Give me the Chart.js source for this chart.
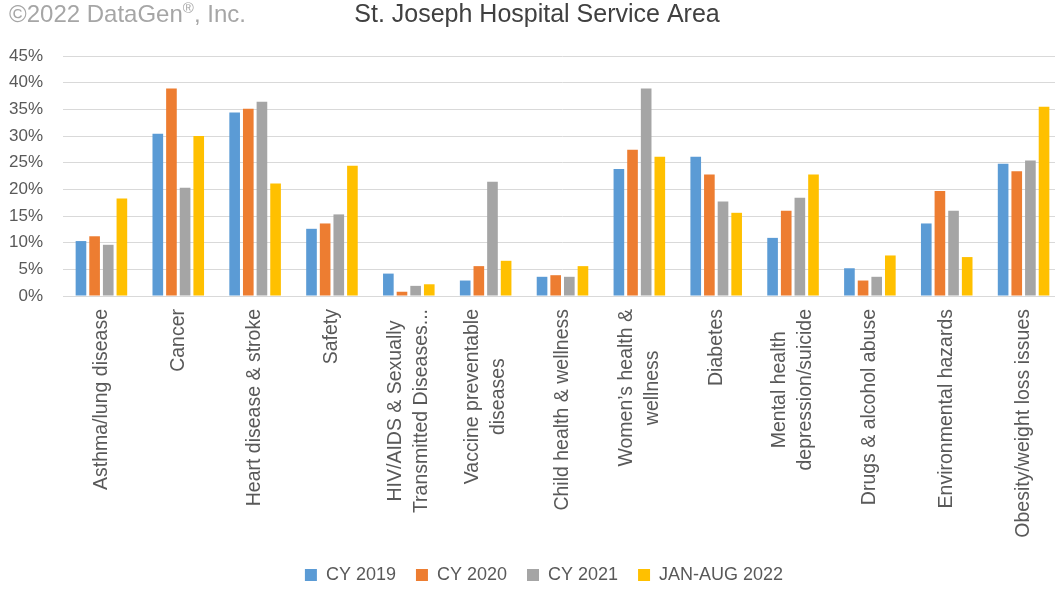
<!DOCTYPE html>
<html>
<head>
<meta charset="utf-8">
<script src="https://cdn.jsdelivr.net/npm/chart.js"></script>
<style>
  body { margin: 0; background: #fff; overflow: hidden; }
  #wrap { position: relative; width: 1062px; height: 590px; }
  #copy {
    position: absolute; left: 9px; top: -1px;
    font: 24px "Liberation Sans", Arial, sans-serif; color: #a6a6a6;
    white-space: nowrap;
  }
  #copy sup { font-size: 15px; }
</style>
</head>
<body>
<div id="wrap">
  <canvas id="myChart"></canvas>
  <div id="copy">©2022 DataGen<sup>®</sup>, Inc.</div>
</div>
<script>
const ctx = document.getElementById("myChart");

const categories = [
  "Asthma/lung disease",
  "Cancer",
  "Heart disease & stroke",
  "Safety",
  ["HIV/AIDS & Sexually", "Transmitted Diseases..."],
  ["Vaccine preventable", "diseases"],
  "Child health & wellness",
  ["Women’s health &", "wellness"],
  "Diabetes",
  ["Mental health", "depression/suicide"],
  "Drugs & alcohol abuse",
  "Environmental hazards",
  "Obesity/weight loss issues",
];

const seriesNames = ["CY 2019", "CY 2020", "CY 2021", "JAN-AUG 2022"];
const cy2019 = [10.3, 30.4, 34.4, 12.6, 4.2, 2.9, 3.6, 23.8, 26.1, 10.9, 5.2, 13.6, 24.8];
const cy2020 = [11.2, 38.9, 35.1, 13.6, 0.8, 5.6, 3.9, 27.4, 22.8, 16.0, 2.9, 19.7, 23.4];
const cy2021 = [9.6, 20.3, 36.4, 15.3, 1.9, 21.4, 3.6, 38.9, 17.7, 18.4, 3.6, 16.0, 25.4];
const janAug2022 = [18.3, 30.0, 21.1, 24.4, 2.2, 6.6, 5.6, 26.1, 15.6, 22.8, 7.6, 7.3, 35.5];
const colors = ["#5B9BD5", "#ED7D31", "#A5A5A5", "#FFC000"];

const FONT = '"Liberation Sans", Arial, sans-serif';

// rotated category labels, lines centred like Excel does
const xLabels = {
  id: "xLabels",
  afterDraw(chart) {
    const scale = chart.scales.x;
    const c = chart.ctx;
    c.save();
    c.font = "19.5px " + FONT;
    c.fillStyle = "#595959";
    c.textAlign = "center";
    c.textBaseline = "middle";
    categories.forEach((lab, i) => {
      const lines = Array.isArray(lab) ? lab : [lab];
      const w = Math.max(...lines.map((l) => c.measureText(l).width));
      c.save();
      c.translate(scale.getPixelForTick(i), scale.top + 13 + w / 2);
      c.rotate(-Math.PI / 2);
      lines.forEach((l, j) => c.fillText(l, 0, (j - (lines.length - 1) / 2) * 26));
      c.restore();
    });
    c.restore();
  },
};

// excel centres title/legend a bit right of ours
const nudge = {
  id: "nudge",
  afterLayout(chart) {
    chart.legend.left += 13;
    chart.legend.right += 13;
    chart.titleBlock.left += 6;
    chart.titleBlock.right += 6;
  },
};

new Chart(ctx, {
  type: "bar",
  data: {
    labels: categories,
    datasets: [cy2019, cy2020, cy2021, janAug2022].map((d, i) => ({
      label: seriesNames[i],
      data: d,
      backgroundColor: colors[i],
      categoryPercentage: 0.71,
      barPercentage: 0.78,
    })),
  },
  options: {
    responsive: true,
    maintainAspectRatio: false,
    animation: false,
    layout: { padding: { left: 0, right: 0, top: 0, bottom: -4 } },
    plugins: {
      title: {
        display: true,
        text: "St. Joseph Hospital Service Area",
        color: "#404040",
        font: { family: FONT, size: 25, weight: "normal" },
        padding: { top: 0, bottom: 26 },
      },
      legend: {
        position: "bottom",
        labels: {
          color: "#595959",
          font: { family: FONT, size: 18 },
          boxWidth: 12,
          boxHeight: 12,
          padding: 20,
        },
      },
      tooltip: { enabled: false },
    },
    scales: {
      x: {
        grid: { display: false },
        border: { color: "#d9d9d9" },
        ticks: { display: false },
        afterFit: (scale) => { scale.height = 250; },
      },
      y: {
        min: 0,
        max: 45,
        grid: { color: "#d9d9d9", drawTicks: false },
        border: { display: false },
        ticks: {
          stepSize: 5,
          padding: 20,
          color: "#595959",
          font: { family: FONT, size: 17 },
          callback: (v) => v + "%",
        },
        afterFit: (scale) => { scale.width = 63; },
      },
    },
  },
  plugins: [xLabels, nudge],
});
</script>
</body>
</html>
